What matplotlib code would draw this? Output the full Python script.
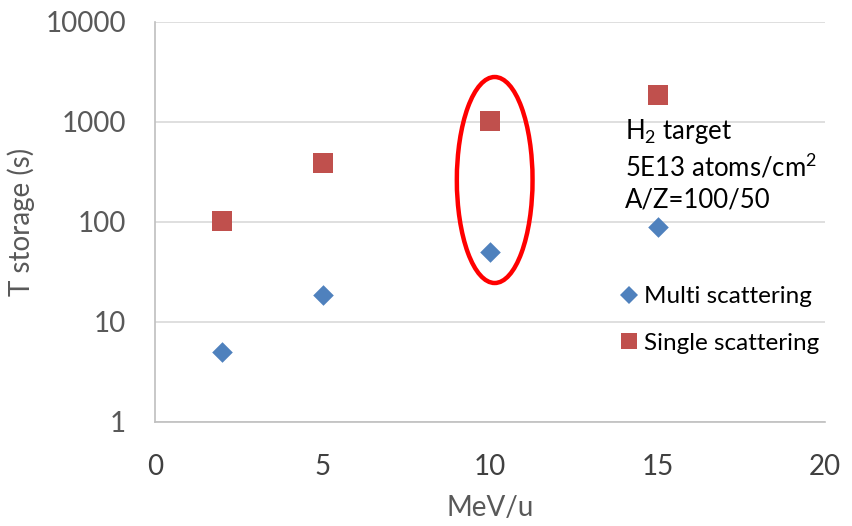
import matplotlib
matplotlib.use("Agg")
import matplotlib.pyplot as plt
from matplotlib.patches import Ellipse
from matplotlib.lines import Line2D

plt.rcParams['font.family'] = ['Lato', 'DejaVu Sans']
plt.rcParams['mathtext.fontset'] = 'custom'
plt.rcParams['mathtext.rm'] = 'Lato'

energy = [2, 5, 10, 15]
multi = [5, 18.5, 50, 89]
single = [102, 390, 1030, 1850]
multi_label = "Multi scattering"
single_label = "Single scattering"
yticks = [1, 10, 100, 1000, 10000]
ytick_labels = ["1", "10", "100", "1000", "10000"]
xticks = [0, 5, 10, 15, 20]

W, H = 852, 526
fig = plt.figure(figsize=(W / 100, H / 100), dpi=100)
ax = fig.add_axes([155 / W, 1 - 422 / H, 670 / W, 400 / H])

blue = '#4F81BD'
red = '#C0504D'

ax.scatter(energy, multi, marker='D', s=110, color=blue, zorder=3, linewidths=0)
ax.scatter(energy, single, marker='s', s=210, color=red, zorder=3, linewidths=0)

ax.set_yscale('log')
ax.set_ylim(1, 10000)
ax.set_xlim(0, 20)
ax.set_yticks(yticks)
ax.set_yticklabels(ytick_labels)
ax.minorticks_off()
ax.set_xticks(xticks)
ax.grid(axis='y', color='#D9D9D9', linewidth=1.2)
ax.set_axisbelow(True)
for s in ['top', 'right']:
    ax.spines[s].set_visible(False)
for s in ['left', 'bottom']:
    ax.spines[s].set_color('#BFBFBF')
    ax.spines[s].set_linewidth(1.2)
ax.tick_params(length=0, labelsize=20, colors='#595959')
ax.tick_params(axis='y', pad=21)
ax.tick_params(axis='x', pad=23, labelcolor='#404040')
ax.set_ylabel("T storage (s)", fontsize=20, color='#595959', labelpad=7)
ax.set_xlabel("MeV/u", fontsize=20, color='#595959', labelpad=11)

ell = Ellipse((0.507, 0.605), 0.113, 0.515, transform=ax.transAxes,
              fill=False, edgecolor='#FF0000', linewidth=3.2, clip_on=False, zorder=4)
ax.add_patch(ell)

ax.text(625 / W, 1 - 132 / H, "H$_\\mathregular{2}$ target", transform=fig.transFigure,
        fontsize=18.5, color='black', va='center', ha='left')
ax.text(625 / W, 1 - 167 / H, "5E13 atoms/cm$^\\mathregular{2}$", transform=fig.transFigure,
        fontsize=18.5, color='black', va='center', ha='left')
ax.text(625 / W, 1 - 200 / H, "A/Z=100/50", transform=fig.transFigure,
        fontsize=18.5, color='black', va='center', ha='left')

handles = [Line2D([], [], marker='D', color=blue, linestyle='', markersize=9, markeredgewidth=0),
           Line2D([], [], marker='s', color=red, linestyle='', markersize=12, markeredgewidth=0)]
fig.legend(handles, [multi_label, single_label], loc='center left',
           bbox_to_anchor=(612 / W, 1 - 320 / H), frameon=False, fontsize=17.5,
           handlelength=0.6, handletextpad=0.3, labelspacing=1.05, borderaxespad=0)

fig.savefig("out.png", dpi=100)
